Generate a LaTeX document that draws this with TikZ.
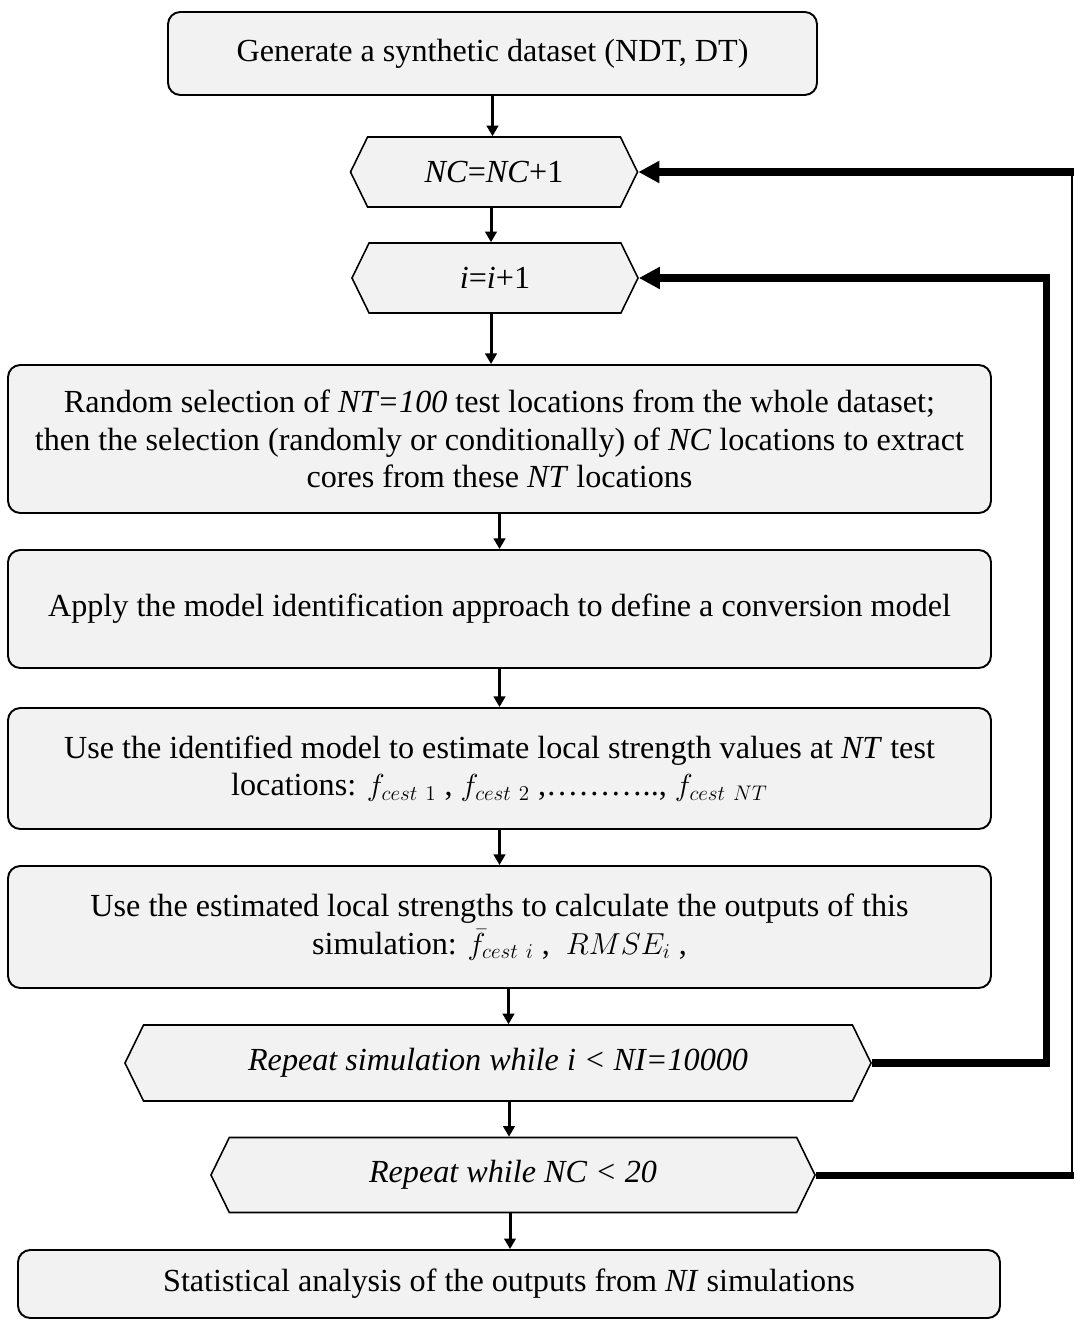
\documentclass[tikz,border=0pt]{standalone}
\usepackage{amsmath,amssymb}
\usepackage{fontspec}
\setmainfont{Liberation Serif}
\usepackage{xcolor}
\usepackage{tikz}
\usetikzlibrary{arrows.meta,positioning,shapes.symbols,calc}
\definecolor{boxgray}{RGB}{242,242,242}

\begin{document}
\begin{tikzpicture}[
  stepbox/.style={draw, line width=1.1pt, fill=boxgray, rounded corners=7pt, minimum width=19.66cm, align=center, font=\fontsize{18.3}{21.3}\selectfont, inner sep=0pt},
  loopbox/.style={draw, line width=0.9pt, fill=boxgray, signal, signal to=west and east, signal pointer angle=128, minimum height=1.4cm, align=center, font=\fontsize{18.3}{21.3}\selectfont, inner sep=0pt},
  arrow/.style={-{Triangle[length=6pt, width=6.5pt]}, line width=1.7pt},
  looparrow/.style={-{Triangle[length=12pt, width=12pt]}, line width=4pt},
  loopline/.style={line width=4pt, line join=miter}
]
\useasboundingbox (0,0) rectangle (21.5,-26.54);
% main steps
\node[stepbox, minimum width=12.98cm, minimum height=1.66cm] (gen) at (9.85,-1.07) {Generate a synthetic dataset (NDT, DT)};
\node[loopbox, minimum width=5.74cm] (nc) at (9.88,-3.44) {\textit{NC}=\textit{NC}+1};
\node[loopbox, minimum width=5.72cm] (ii) at (9.90,-5.56) {\textit{i}=\textit{i}+1};
\node[stepbox, minimum height=2.96cm] (sel) at (9.99,-8.78) {
  Random selection of \textit{NT=100} test locations from the whole dataset;\\
  then the selection (randomly or conditionally) of \textit{NC} locations to extract\\
  cores from these \textit{NT} locations
};
\node[stepbox, minimum height=2.36cm] (apply) at (9.99,-12.18) {Apply the model identification approach to define a conversion model};
\node[stepbox, minimum height=2.42cm] (est) at (9.99,-15.37) {
  Use the identified model to estimate local strength values at \textit{NT} test\\
  locations: $f_{cest\ 1}$ , $f_{cest\ 2}$ ,………..,\ $f_{cest\ NT}$
};
\node[stepbox, minimum height=2.44cm] (outp) at (9.99,-18.54) {
  Use the estimated local strengths to calculate the outputs of this\\
  simulation: $\bar{f}_{cest\ i}$ , \ $RMSE_i$ ,
};
\node[loopbox, minimum width=14.92cm, minimum height=1.52cm] (repsim) at (9.96,-21.26) {\textit{Repeat simulation while i < NI=10000}};
\node[loopbox, minimum width=12.08cm, minimum height=1.50cm] (repnc) at (10.26,-23.50) {\textit{Repeat while NC < 20}};
\node[stepbox, minimum width=19.64cm, minimum height=1.36cm] (stat) at (10.18,-25.68) {Statistical analysis of the outputs from \textit{NI} simulations};
% arrows down
\draw[arrow] (gen.south) -- (gen.south |- nc.north);
\draw[arrow] ([xshift=-0.06cm]nc.south) -- ([xshift=-0.06cm]nc.south |- ii.north);
\draw[arrow] ([xshift=-0.08cm]ii.south) -- ([xshift=-0.08cm]ii.south |- sel.north);
\draw[arrow] (sel.south) -- (sel.south |- apply.north);
\draw[arrow] (apply.south) -- (apply.south |- est.north);
\draw[arrow] (est.south) -- (est.south |- outp.north);
\draw[arrow] ([xshift=0.18cm]outp.south) -- ([xshift=0.18cm]outp.south |- repsim.north);
\draw[arrow] ([xshift=0.22cm]repsim.south) -- ([xshift=0.22cm]repsim.south |- repnc.north);
\draw[arrow] ([xshift=-0.06cm]repnc.south) -- ([xshift=-0.06cm]repnc.south |- stat.north);
% loops back
\coordinate (iloop) at (20.92,0);
\coordinate (ncloop) at (21.44,0);
\draw[loopline] (repsim.east) -- (repsim.east -| iloop) -- (ii.east -| iloop) -- ([xshift=10pt]ii.east);
\draw[looparrow] ([xshift=12pt]ii.east) -- (ii.east);
\draw[loopline] (repnc.east) -- ([xshift=0.04cm]repnc.east -| ncloop);
\draw[line width=1.2pt] (repnc.east -| ncloop) -- (nc.east -| ncloop);
\draw[looparrow] ([xshift=0.04cm]nc.east -| ncloop) -- (nc.east);
\end{tikzpicture}
\end{document}
